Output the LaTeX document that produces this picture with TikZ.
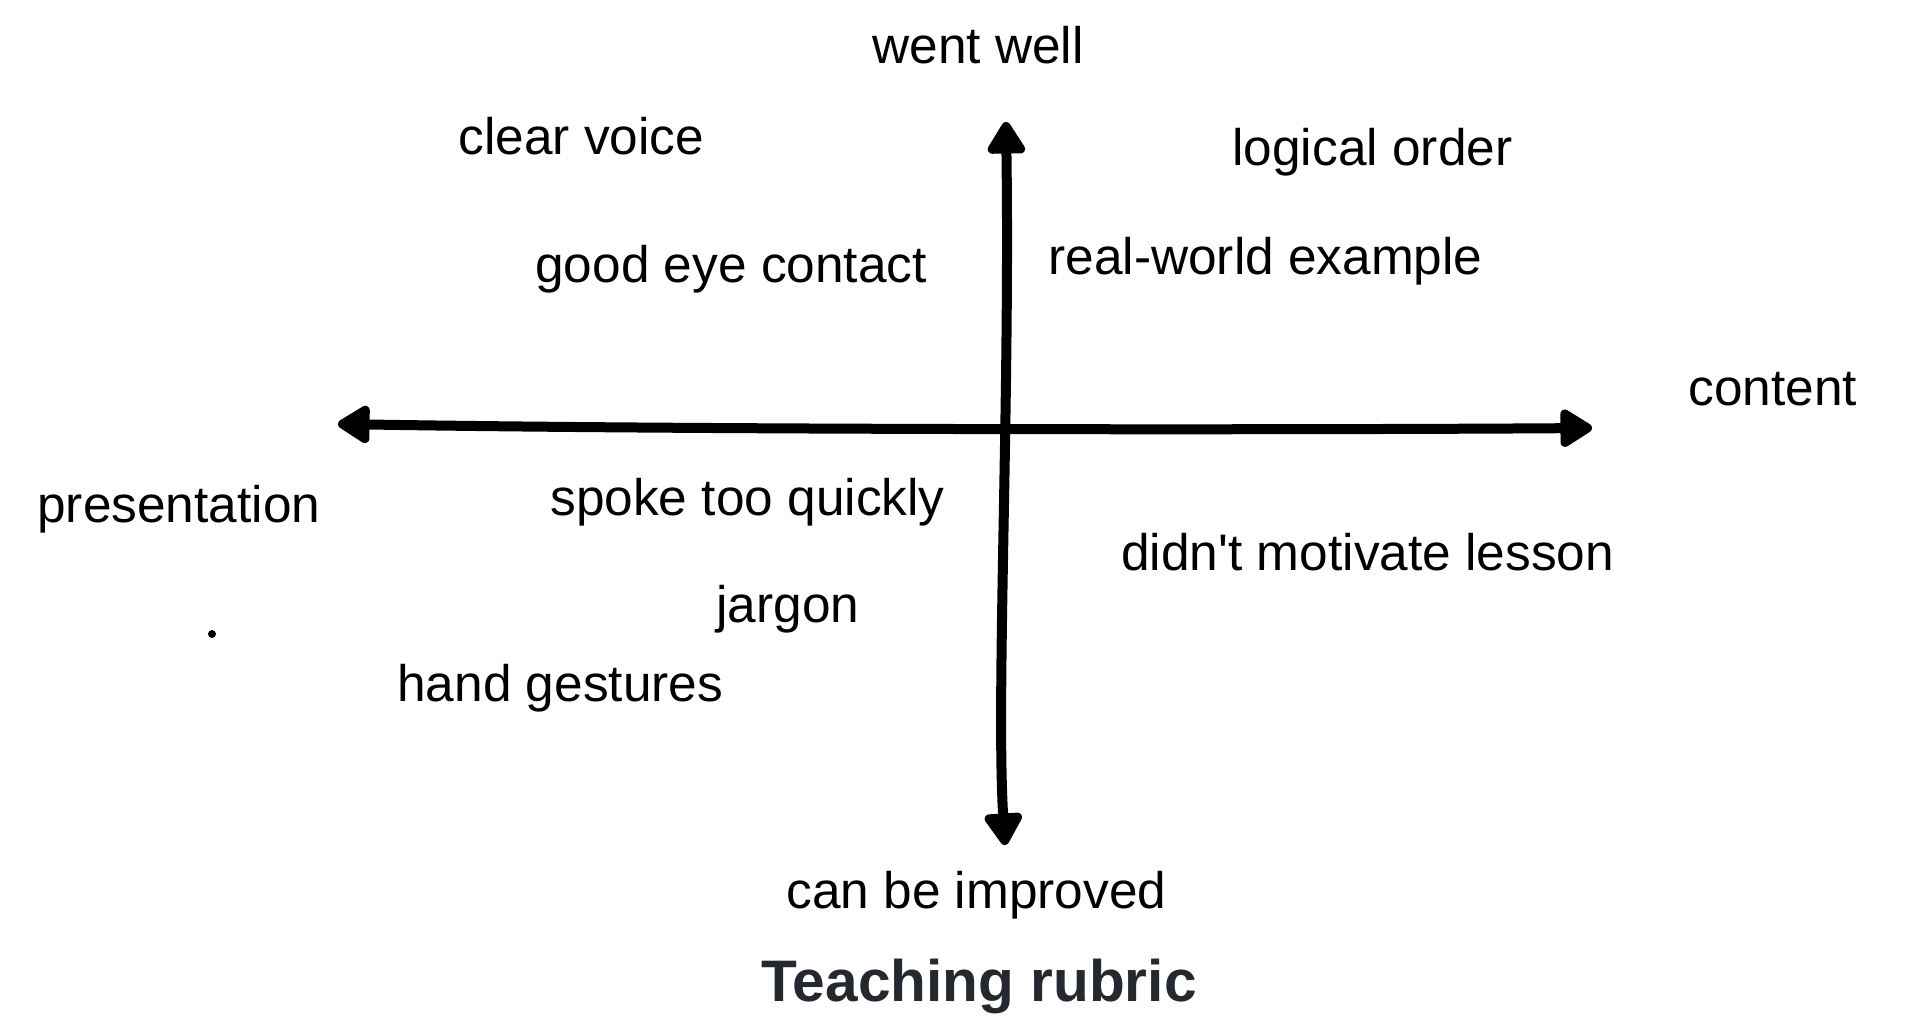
\documentclass[tikz,border=0pt]{standalone}
\usepackage{fontspec}
\setmainfont{Liberation Sans}
\usetikzlibrary{arrows.meta}
\definecolor{titlegray}{HTML}{24292F}
\tikzset{
	lbl/.style = {anchor = base west, inner sep = 0pt, font = \fontsize{25.7}{30}\selectfont},
	axis/.style = {line width = 5pt, line cap = round, {Triangle[length = 18pt, width = 21pt, round]}-{Triangle[length = 18pt, width = 21pt, round]}}
}
\begin{document}
\begin{tikzpicture}[x = .5pt, y = -.5pt]
					\useasboundingbox (0,0) rectangle (1926,1026);
					\coordinate (west) at (338,424);
					\coordinate (east) at (1592,428);
					\coordinate (north) at (1006,122);
					\coordinate (south) at (1005,845);
					\draw[axis] (west) .. controls (700,430) and (1300,430) .. (east); %x-axis
					\draw[axis] (north) .. controls (1010,400) and (996,700) .. (south); %y-axis
					\node[lbl] (wentwell) at (872,64) {went well};
					\node[lbl] (improved) at (786,908) {can be improved};
					\node[lbl] (content) at (1688,405) {content};
					\node[lbl] (presentation) at (37,522) {presentation};
					\node[lbl] (voice) at (458,155) {clear voice};
					\node[lbl] (eye) at (535,283) {good eye contact};
					\node[lbl] (order) at (1232,166) {logical order};
					\node[lbl] (example) at (1048,275) {real-world example};
					\node[lbl] (quickly) at (550,515) {spoke too quickly};
					\node[lbl] (motivate) at (1121,570) {didn\textquotesingle t motivate lesson};
					\node[lbl] (jargon) at (716,622) {jargon};
					\node[lbl] (gestures) at (397,701) {hand gestures};
					\node[anchor = base, inner sep = 0pt, text = titlegray, font = \fontsize{29.3}{34}\selectfont\bfseries] (title) at (979,1001) {Teaching rubric};
					\fill (212,634) circle (4);
				\end{tikzpicture}
\end{document}
